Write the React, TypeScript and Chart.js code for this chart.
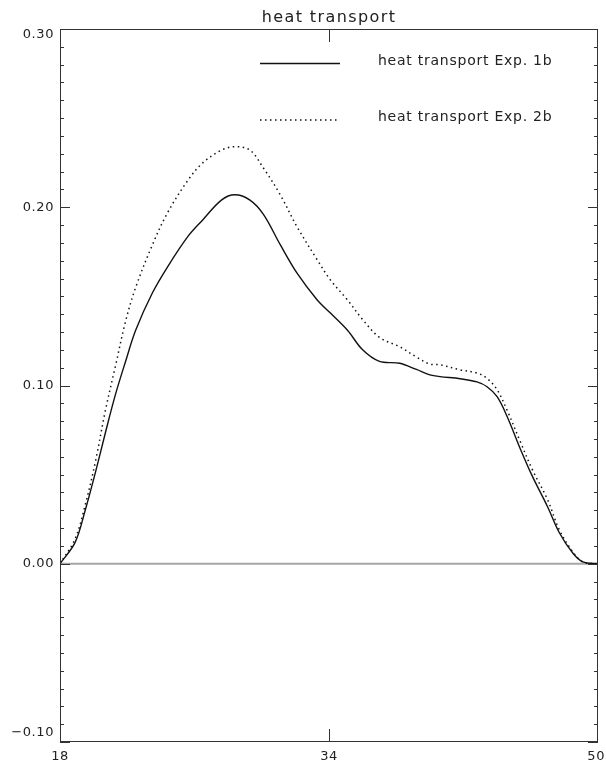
import React, { useEffect, useRef } from "react";
import { Chart, registerables } from "chart.js";

Chart.register(...registerables);

const TITLE = "heat transport";
const LABEL_1B = "heat transport Exp. 1b";
const LABEL_2B = "heat transport Exp. 2b";

const latitude = [
  18, 18.9, 19.5, 20.1, 20.7, 21.3, 21.9, 22.5, 23.5, 24.4, 25.6, 26.5, 27.6, 28.4,
  29.3, 30.1, 31.1, 32.1, 33.3, 34.1, 35.1, 36.0, 37.0, 38.2, 39.2, 40.0, 40.6, 41.8,
  42.8, 43.4, 44.0, 44.6, 45.4, 46.1, 47.0, 47.7, 48.5, 49.1, 50,
];

const exp1b = [
  0, 0.012, 0.03, 0.051, 0.0735, 0.095, 0.1135, 0.131, 0.152, 0.1666, 0.1835, 0.193,
  0.204, 0.207, 0.204, 0.196, 0.179, 0.163, 0.148, 0.1405, 0.131, 0.12, 0.1135, 0.1125,
  0.109, 0.106, 0.105, 0.1038, 0.102, 0.0993, 0.0937, 0.0825, 0.064, 0.049, 0.032,
  0.0174, 0.006, 0.001, 0,
];

const exp2b = [
  0, 0.014, 0.033, 0.057, 0.086, 0.111, 0.136, 0.155, 0.179, 0.197, 0.215, 0.225, 0.232,
  0.234, 0.232, 0.222, 0.207, 0.189, 0.1705, 0.159, 0.148, 0.137, 0.127, 0.1217, 0.116,
  0.112, 0.1116, 0.1088, 0.107, 0.104, 0.0976, 0.086, 0.068, 0.0527, 0.036, 0.019,
  0.0067, 0.001, 0,
];

const yMajorTicks = [0.3, 0.2, 0.1, 0.0, -0.1];
const yTickLabels = ["0.30", "0.20", "0.10", "0.00", "\u22120.10"];
const xMajorTicks = [18, 34, 50];
const xTickLabels = ["18", "34", "50"];
const yMinorStep = 0.01;

const FONT = '"DejaVu Sans", sans-serif';
const INK = "#222";

const framePlugin = {
  id: "idlFrame",
  beforeDatasetsDraw(chart: any) {
    const { ctx, chartArea, scales } = chart;
    const y0 = scales.y.getPixelForValue(0);
    ctx.save();
    ctx.strokeStyle = "#a6a6a6";
    ctx.lineWidth = 2;
    ctx.beginPath();
    ctx.moveTo(chartArea.left, y0);
    ctx.lineTo(chartArea.right, y0);
    ctx.stroke();
    ctx.restore();
  },
  afterDraw(chart: any) {
    const { ctx, chartArea, scales } = chart;
    const { left, right, top, bottom } = chartArea;
    const xs = scales.x;
    const ys = scales.y;
    ctx.save();
    // frame
    ctx.strokeStyle = "#333";
    ctx.lineWidth = 1;
    ctx.strokeRect(left + 0.5, top + 0.5, right - left - 1, bottom - top - 1);

    // y ticks (minor + major), inward on both sides
    const n = Math.round((ys.max - ys.min) / yMinorStep);
    ctx.beginPath();
    for (let i = 0; i <= n; i++) {
      const v = ys.min + i * yMinorStep;
      const py = Math.round(ys.getPixelForValue(v)) + 0.5;
      const major = i % 10 === 0;
      const len = major ? 10 : 4;
      ctx.moveTo(left, py);
      ctx.lineTo(left + len, py);
      ctx.moveTo(right, py);
      ctx.lineTo(right - len, py);
    }
    // x major ticks (interior only)
    xMajorTicks.forEach((v) => {
      if (v === xs.min || v === xs.max) return;
      const px = Math.round(xs.getPixelForValue(v)) + 0.5;
      ctx.moveTo(px, bottom);
      ctx.lineTo(px, bottom - 13);
      ctx.moveTo(px, top);
      ctx.lineTo(px, top + 13);
    });
    ctx.stroke();

    // labels
    ctx.fillStyle = INK;
    ctx.font = `13px ${FONT}`;
    (ctx as any).letterSpacing = "0.6px";
    ctx.textAlign = "right";
    ctx.textBaseline = "middle";
    yMajorTicks.forEach((v, i) => {
      let py = ys.getPixelForValue(v);
      py = Math.min(Math.max(py, top + 6), bottom - 9);
      ctx.fillText(yTickLabels[i], left - 6, py);
    });
    ctx.textAlign = "center";
    ctx.textBaseline = "middle";
    xMajorTicks.forEach((v, i) => {
      let px = xs.getPixelForValue(v);
      const w = ctx.measureText(xTickLabels[i]).width;
      px = Math.min(px, chart.width - w / 2 - 1);
      ctx.fillText(xTickLabels[i], px, bottom + 15);
    });

    // title
    ctx.font = `16px ${FONT}`;
    (ctx as any).letterSpacing = "1.4px";
    ctx.textBaseline = "alphabetic";
    ctx.fillText(TITLE, (left + right) / 2, 22);

    // legend
    ctx.strokeStyle = "#111";
    ctx.lineWidth = 1.3;
    ctx.beginPath();
    ctx.moveTo(260, 63.5);
    ctx.lineTo(340, 63.5);
    ctx.stroke();
    ctx.setLineDash([1.5, 3.5]);
    ctx.lineWidth = 1.5;
    ctx.beginPath();
    ctx.moveTo(260, 120);
    ctx.lineTo(340, 120);
    ctx.stroke();
    ctx.setLineDash([]);
    ctx.font = `14px ${FONT}`;
    (ctx as any).letterSpacing = "0.75px";
    ctx.textAlign = "left";
    ctx.textBaseline = "middle";
    ctx.fillText(LABEL_1B, 378, 61);
    ctx.fillText(LABEL_2B, 378, 117);
    ctx.restore();
  },
};

export default function App() {
  const ref = useRef<HTMLCanvasElement | null>(null);
  useEffect(() => {
    if (!ref.current) return;
    const chart = new Chart(ref.current, {
      type: "line",
      data: {
        datasets: [
          {
            label: LABEL_1B,
            data: latitude.map((x, i) => ({ x, y: exp1b[i] })),
            borderColor: "#111",
            borderWidth: 1.4,
            pointRadius: 0,
            tension: 0.35,
            fill: false,
          },
          {
            label: LABEL_2B,
            data: latitude.map((x, i) => ({ x, y: exp2b[i] })),
            borderColor: "#111",
            borderWidth: 1.5,
            borderDash: [1.5, 3.5],
            pointRadius: 0,
            tension: 0.35,
            fill: false,
          },
        ],
      },
      options: {
        responsive: false,
        animation: false,
        layout: { padding: { left: 60, right: 8, top: 29, bottom: 23 } },
        plugins: { legend: { display: false }, tooltip: { enabled: false }, title: { display: false } },
        scales: {
          x: { type: "linear", min: 18, max: 50, display: false },
          y: { type: "linear", min: -0.1, max: 0.3, display: false },
        },
      },
      plugins: [framePlugin],
    });
    return () => chart.destroy();
  }, []);
  return (
    <div style={{ position: "absolute", left: 0, top: 0, width: 606, height: 765, background: "#fff" }}>
      <canvas ref={ref} width={606} height={765} style={{ display: "block" }} />
    </div>
  );
}
